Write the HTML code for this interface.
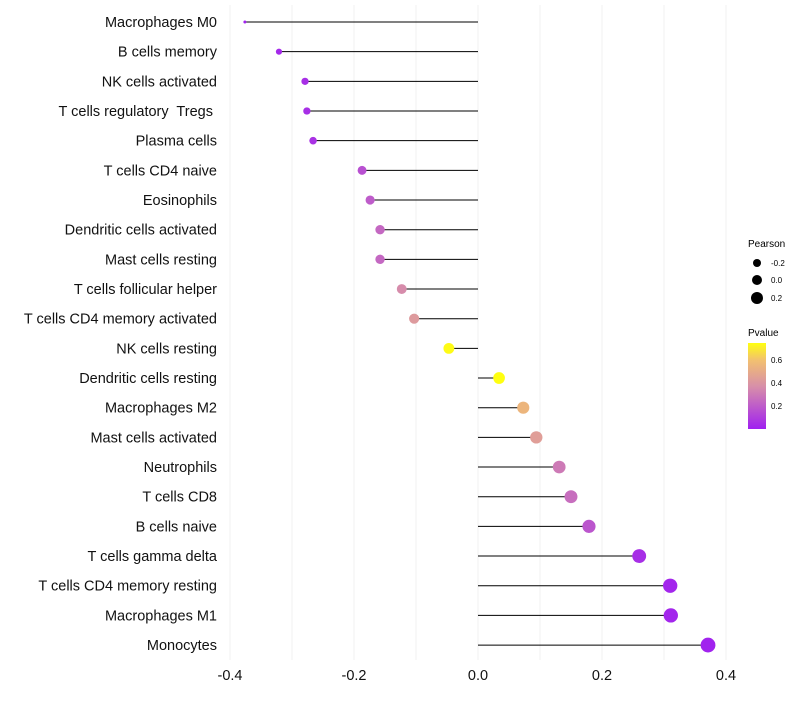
<!DOCTYPE html>
<html><head><meta charset="utf-8"><style>
body{margin:0;background:#fff;font-family:"Liberation Sans",sans-serif}
text{white-space:pre}
</style></head><body>
<svg id="chart" width="800" height="700">
<defs><linearGradient id="pg" x1="0" y1="1" x2="0" y2="0">
<stop offset="0" stop-color="#a020f0"/><stop offset="0.5" stop-color="#d890a8"/><stop offset="0.8" stop-color="#f2c070"/><stop offset="1" stop-color="#ffff10"/></linearGradient></defs>
<g id="grid"></g><g id="marks"></g><g id="labels"></g>
<g font-size="10">
<text x="748" y="247">Pearson</text>
<circle cx="757" cy="263" r="4" fill="#000"/><text x="771" y="266" font-size="8">-0.2</text>
<circle cx="757" cy="280" r="5" fill="#000"/><text x="771" y="283" font-size="8">0.0</text>
<circle cx="757" cy="298" r="6" fill="#000"/><text x="771" y="301" font-size="8">0.2</text>
<text x="748" y="336">Pvalue</text>
<rect x="748" y="343" width="18" height="86" fill="url(#pg)"/>
<text x="771" y="363" font-size="8">0.6</text>
<text x="771" y="386" font-size="8">0.4</text>
<text x="771" y="409" font-size="8">0.2</text>
</g>
</svg>
<script>
const categories=["Macrophages M0","B cells memory","NK cells activated","T cells regulatory  Tregs ","Plasma cells","T cells CD4 naive","Eosinophils","Dendritic cells activated","Mast cells resting","T cells follicular helper","T cells CD4 memory activated","NK cells resting","Dendritic cells resting","Macrophages M2","Mast cells activated","Neutrophils","T cells CD8","B cells naive","T cells gamma delta","T cells CD4 memory resting","Macrophages M1","Monocytes"];
const pearson=[-0.376,-0.321,-0.279,-0.276,-0.266,-0.187,-0.174,-0.158,-0.158,-0.123,-0.103,-0.047,0.034,0.073,0.094,0.131,0.150,0.179,0.260,0.310,0.311,0.371];
const pvalues=[0.01,0.03,0.05,0.05,0.06,0.16,0.2,0.24,0.24,0.36,0.42,0.74,0.76,0.55,0.44,0.3,0.26,0.18,0.05,0.02,0.02,0.01];
const xTicks=[-0.4,-0.2,0,0.2,0.4];
const NS="http://www.w3.org/2000/svg";
const x=v=>478+v*620, y=i=>22+i*29.67;
function rad(v){return 1.5+5.9*Math.sqrt(Math.max(0,(v+0.376)/0.747));}
function lerp(a,b,t){return a.map((c,i)=>Math.round(c+(b[i]-c)*t));}
function col(p){const s=[[0,[160,32,240]],[0.375,[216,144,168]],[0.6,[242,192,112]],[0.75,[255,255,16]]];
 for(let i=1;i<s.length;i++){if(p<=s[i][0]){const t=(p-s[i-1][0])/(s[i][0]-s[i-1][0]);return "rgb("+lerp(s[i-1][1],s[i][1],Math.max(0,t)).join(",")+")";}}return "rgb(255,255,16)";}
function mk(t,a,p){const e=document.createElementNS(NS,t);for(const k in a)e.setAttribute(k,a[k]);p.appendChild(e);return e;}
const grid=document.getElementById("grid"),marks=document.getElementById("marks"),labels=document.getElementById("labels");
for(let v=-0.4;v<=0.4001;v+=0.1){const g=mk("line",{x1:x(v),x2:x(v),y1:5,y2:660,stroke:"#f0f0f0","stroke-width":1},grid);

}
categories.forEach((c,i)=>{const yy=y(i);
 const t=mk("text",{x:217,y:yy+5,"text-anchor":"end","font-size":14.5,fill:"#111"},labels);t.textContent=c;
 
 
 const l=mk("line",{x1:x(0),x2:x(pearson[i]),y1:yy,y2:yy,stroke:"#000","stroke-width":1},marks);
 
 
 const p=mk("circle",{cx:x(pearson[i]),cy:yy,r:rad(pearson[i]),fill:col(pvalues[i])},marks);
 
 
});
xTicks.forEach(v=>{const t=mk("text",{x:x(v),y:680,"text-anchor":"middle","font-size":14.5,fill:"#111"},labels);t.textContent=v===0?"0.0":v.toFixed(1);
 
 });
</script>
</body></html>
